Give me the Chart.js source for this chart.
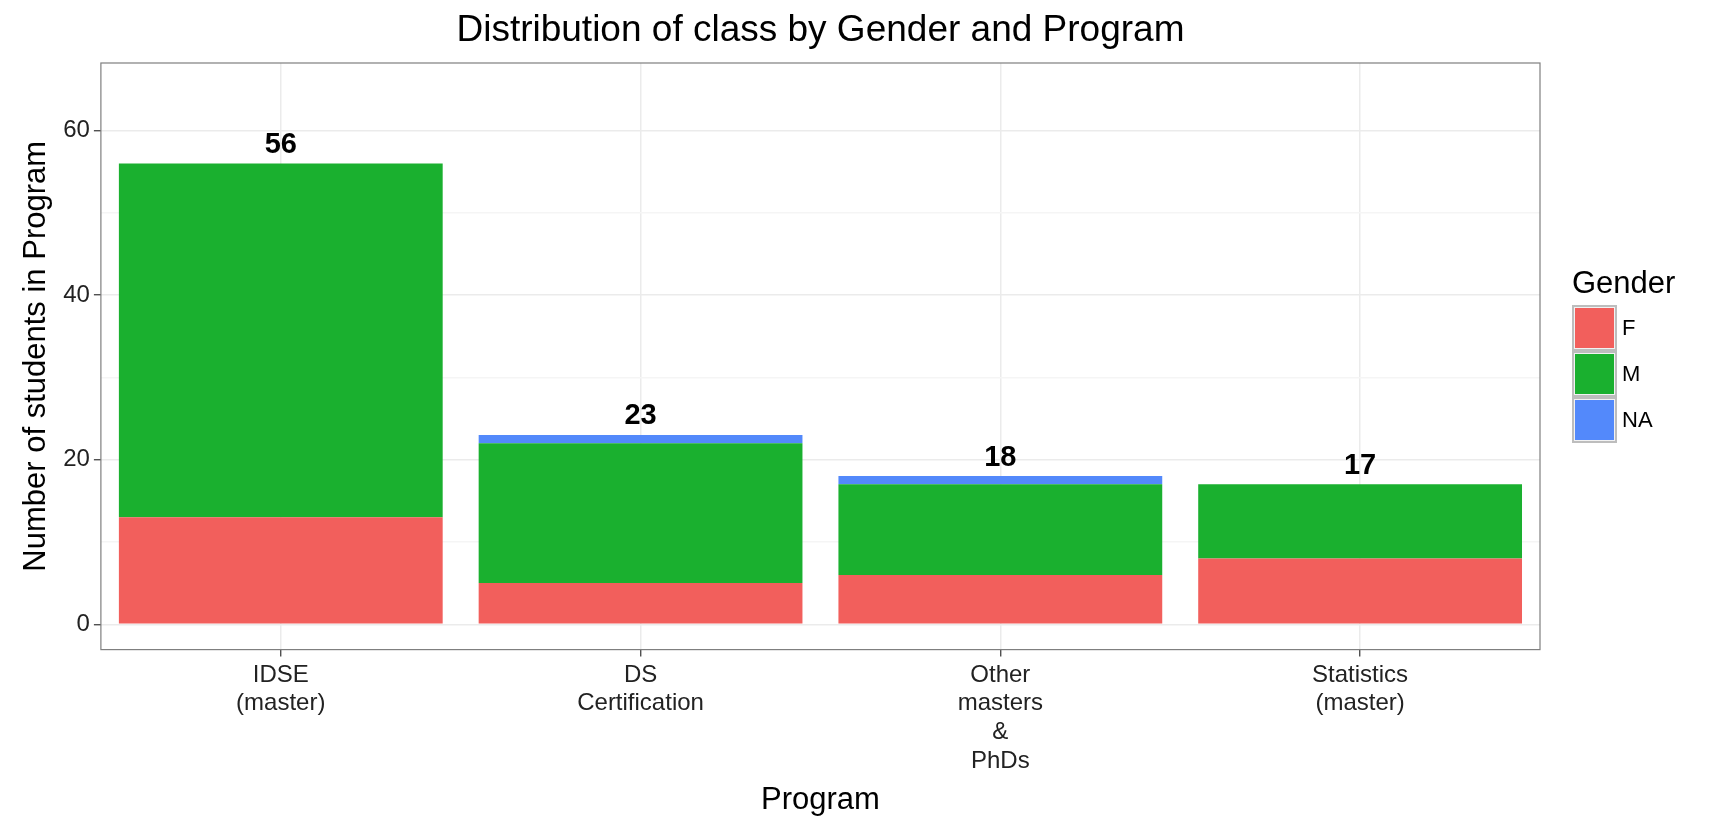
<!DOCTYPE html>
<html><head><meta charset="utf-8">
<script src="https://cdn.jsdelivr.net/npm/chart.js@4/dist/chart.umd.min.js"></script>
<style>html,body{margin:0;background:#fff}#w{width:1728px;height:825px}</style>
</head><body><div id="w"><canvas id="c"></canvas></div>
<script>
const categories = [["IDSE","(master)"],["DS","Certification"],["Other","masters","&","PhDs"],["Statistics","(master)"]];
const female = [13,5,6,8];
const male = [43,17,11,9];
const na = [0,1,1,0];
const totals = [56,23,18,17];
const colors = {F:"#F25F5C", M:"#1AB02F", NA:"#5389FB"};
const yTicks = [0,10,20,30,40,50,60];
const FONT = "Liberation Sans, Arial, sans-serif";

const totalsPlugin = {
  id:"totals",
  afterDatasetsDraw(chart){
    const ctx = chart.ctx, x = chart.scales.x, y = chart.scales.y;
    const a = chart.chartArea;
    ctx.save();
    ctx.font = "bold 29px " + FONT; ctx.fillStyle="#000"; ctx.textAlign="center"; ctx.textBaseline="bottom";
    totals.forEach((t,i)=>ctx.fillText(String(t), x.getPixelForValue(i), y.getPixelForValue(t)-4));
    // title
    ctx.font = "37px " + FONT; ctx.textBaseline="middle";
    ctx.fillText("Distribution of class by Gender and Program", (a.left+a.right)/2, 31);
    // panel border
    ctx.strokeStyle="#7f7f7f"; ctx.lineWidth=1.2;
    ctx.strokeRect(a.left, a.top, a.right-a.left, a.bottom-a.top);
    // legend
    const lx = 1572;
    ctx.textAlign="left"; ctx.textBaseline="middle";
    ctx.font = "31px " + FONT; ctx.fillText("Gender", lx, 284);
    [["F",colors.F],["M",colors.M],["NA",colors.NA]].forEach((e,i)=>{
      const ky = 305 + i*46;
      ctx.fillStyle="#f2f2f2"; ctx.fillRect(lx, ky, 45, 46);
      ctx.strokeStyle="#bdbdbd"; ctx.lineWidth=2; ctx.strokeRect(lx+1, ky+1, 43, 44);
      ctx.fillStyle=e[1]; ctx.fillRect(lx+3, ky+3, 39, 40);
      ctx.fillStyle="#000"; ctx.font="22px " + FONT; ctx.fillText(e[0], lx+50, ky+24);
    });
    ctx.restore();
  }
};

new Chart(document.getElementById("c"), {
  type:"bar",
  data:{labels:categories, datasets:[
    {label:"F", data:female, backgroundColor:colors.F},
    {label:"M", data:male, backgroundColor:colors.M},
    {label:"NA", data:na, backgroundColor:colors.NA}
  ]},
  options:{
    responsive:true, maintainAspectRatio:false, animation:false,
    layout:{padding:{left:14, right:188, top:63, bottom:2}},
    categoryPercentage:0.9, barPercentage:1,
    plugins:{ legend:{display:false}, tooltip:{enabled:false}, title:{display:false} },
    scales:{
      x:{stacked:true, offset:true,
        grid:{color:"#ebebeb", lineWidth:1.5, offset:false, drawTicks:true, tickLength:7, tickColor:"#333", tickWidth:1.2},
        border:{display:false},
        ticks:{color:"#222", font:{family:FONT,size:24}, padding:4, maxRotation:0, autoSkip:false},
        title:{display:true, text:"Program", color:"#000", font:{family:FONT,size:31}, padding:{top:2}}
      },
      y:{stacked:true, min:-3.08, max:68.2,
        afterBuildTicks(s){ s.ticks = yTicks.map(v=>({value:v})); },
        grid:{color:c=>c.tick && c.tick.value%20===0 ? "#ebebeb" : "#f5f5f5", lineWidth:1.5, tickLength:7,
              tickColor:c=>c.tick && c.tick.value%20===0 ? "#333" : "rgba(0,0,0,0)", tickWidth:1.2},
        border:{display:false},
        ticks:{color:"#222", font:{family:FONT,size:24}, padding:4, callback:v=>v%20===0?String(v):""},
        title:{display:true, text:"Number of students in Program", color:"#000", font:{family:FONT,size:31}, padding:{bottom:4}}
      }
    }
  },
  plugins:[totalsPlugin]
});
</script></body></html>
